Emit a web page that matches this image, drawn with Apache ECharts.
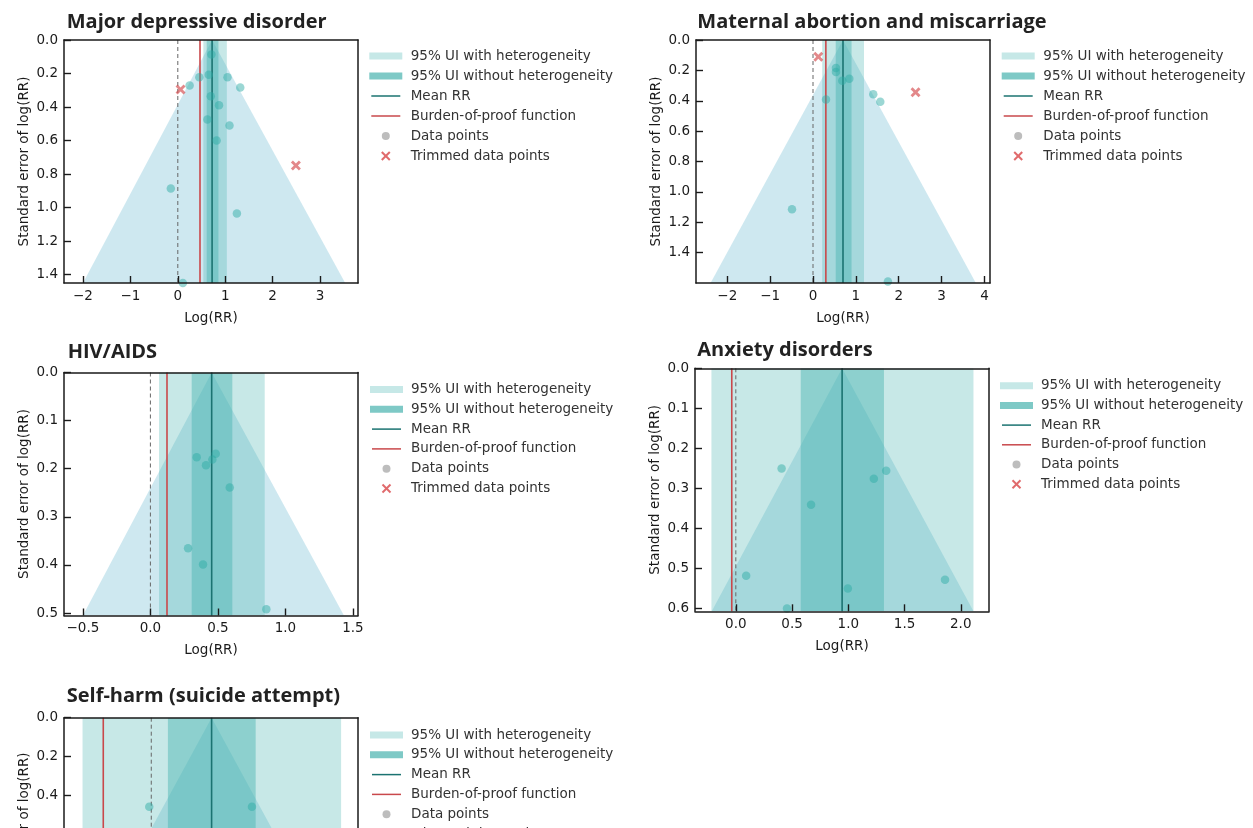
<!DOCTYPE html>
<html>
<head>
<meta charset="utf-8">
<title>Funnel plots</title>
<script src="https://cdn.jsdelivr.net/npm/echarts@6/dist/echarts.min.js"></script>
<style>
  html, body { margin: 0; padding: 0; background: #fff; overflow: hidden; }
  #chart { width: 1253px; height: 1000px; }
</style>
</head>
<body>
<div id="chart"></div>
<script>
// ---- data ----
const panelTitles = [
  "Major depressive disorder",
  "Maternal abortion and miscarriage",
  "HIV/AIDS",
  "Anxiety disorders",
  "Self-harm (suicide attempt)",
];

// [log(RR), standard error]
const mddPoints = [[0.709, 0.087], [0.652, 0.208], [0.454, 0.222], [1.048, 0.222], [0.249, 0.272],
  [1.317, 0.284], [0.695, 0.335], [0.869, 0.389], [0.624, 0.474], [1.09, 0.51], [0.819, 0.6],
  [-0.147, 0.886], [1.246, 1.035], [0.107, 1.45]];
const mddTrimmed = [[0.058, 0.295], [2.49, 0.749]];
const abortionPoints = [[0.536, 0.185], [0.536, 0.211], [0.684, 0.268], [0.847, 0.255], [0.303, 0.392],
  [1.406, 0.357], [1.57, 0.407], [-0.49, 1.115], [1.748, 1.59]];
const abortionTrimmed = [[0.124, 0.111], [2.393, 0.344]];
const hivPoints = [[0.343, 0.176], [0.412, 0.193], [0.459, 0.181], [0.484, 0.169], [0.588, 0.239],
  [0.279, 0.365], [0.39, 0.399], [0.859, 0.492]];
const hivTrimmed = [];
const anxietyPoints = [[0.407, 0.25], [0.669, 0.341], [1.227, 0.276], [1.337, 0.256], [0.092, 0.518],
  [0.996, 0.55], [1.86, 0.528], [0.455, 0.6]];
const anxietyTrimmed = [];
const selfHarmPoints = [[-0.037, 0.456], [1.846, 0.456]];
const selfHarmTrimmed = [];

const meanRR = [0.723, 0.70, 0.454, 0.945, 1.106];
const burdenOfProof = [0.468, 0.30, 0.123, -0.036, -0.88];
const uiWithHet = [[0.539, 1.034], [0.215, 1.19], [0.064, 0.847], [-0.217, 2.113], [-1.26, 3.48]];
const uiWithoutHet = [[0.609, 0.857], [0.53, 0.90], [0.306, 0.607], [0.577, 1.317], [0.305, 1.914]];
// funnel triangle: apex x, apex se, left x, left se, right x, right se
const funnels = [
  [0.723, 0, -2.0, 1.45, 3.53, 1.45],
  [0.70, 0, -2.39, 1.6, 3.80, 1.6],
  [0.454, 0, -0.5, 0.505, 1.434, 0.505],
  [0.945, 0, -0.214, 0.607, 2.113, 0.607],
  [1.106, 0, -1.28, 1.227, 3.49, 1.227],
];

const xMin = [-2.4, -2.73, -0.64, -0.363, -1.6];
const xMax = [3.8, 4.13, 1.538, 2.251, 3.79];
const yMax = [1.45, 1.6, 0.505, 0.607, 1.227];
const xTicks = [[-2, -1, 0, 1, 2, 3], [-2, -1, 0, 1, 2, 3, 4], [-0.5, 0, 0.5, 1, 1.5], [0, 0.5, 1, 1.5, 2], [-1, 0, 1, 2, 3]];
const yTicks = [[0, 0.2, 0.4, 0.6, 0.8, 1.0, 1.2, 1.4], [0, 0.2, 0.4, 0.6, 0.8, 1.0, 1.2, 1.4],
  [0, 0.1, 0.2, 0.3, 0.4, 0.5], [0, 0.1, 0.2, 0.3, 0.4, 0.5, 0.6], [0, 0.2, 0.4, 0.6, 0.8, 1.0, 1.2]];
const xDecimals = [0, 0, 1, 1, 0];

const legendLabels = ["95% UI with heterogeneity", "95% UI without heterogeneity", "Mean RR",
  "Burden-of-proof function", "Data points", "Trimmed data points"];

const allPoints = [mddPoints, abortionPoints, hivPoints, anxietyPoints, selfHarmPoints];
const allTrimmed = [mddTrimmed, abortionTrimmed, hivTrimmed, anxietyTrimmed, selfHarmTrimmed];

// ---- layout ----
const grids = [
  { left: 64, top: 40 },
  { left: 696, top: 40 },
  { left: 64, top: 372.5 },
  { left: 695, top: 368.3 },
  { left: 64, top: 717.7 },
];
const titlePos = [[66.7, 12.3], [697.3, 12.3], [67.7, 342.3], [697.3, 340.6], [66.7, 686.6]];
const legendPos = [
  { px: 369.3, tx: 410.7, y: 56, step: 20 },
  { px: 1001.7, tx: 1043.3, y: 56, step: 20 },
  { px: 370, tx: 411, y: 389.5, step: 19.8 },
  { px: 1000, tx: 1041, y: 385.7, step: 19.7 },
  { px: 370, tx: 411, y: 735, step: 19.8 },
];

const LIGHT = "rgba(71,179,176,0.3)";
const DARK = "rgba(71,179,176,0.45)";
const FUNNEL = "rgba(173,216,230,0.6)";
const MEAN_COLOR = "#1b7371";
const BOP_COLOR = "#c9484b";
const POINT_COLOR = "rgba(45,172,166,0.6)";
const TRIM_COLOR = "rgba(214,80,84,0.85)";
const AXIS_COLOR = "#1a1a1a";
const FONT = "DejaVu Sans";
const FONT_SIZE = 13.5;
const X_PATH = "path://M2,0L5,3L8,0L10,2L7,5L10,8L8,10L5,7L2,10L0,8L3,5L0,2Z";

const chart = echarts.init(document.getElementById("chart"));

const grid = [], xAxis = [], yAxis = [], series = [], title = [], graphic = [];

panelTitles.forEach(function (name, i) {
  grid.push({ left: grids[i].left, top: grids[i].top, width: 294, height: 243 });
  title.push({
    text: name, left: titlePos[i][0], top: titlePos[i][1], padding: 0,
    textStyle: { fontFamily: "Open Sans", fontWeight: "bold", fontSize: 20, color: "#222" },
  });

  const fmtX = function (v) { return v.toFixed(xDecimals[i]).replace("-", "\u2212"); };
  xAxis.push({
    gridIndex: i, type: "value", min: xMin[i], max: xMax[i], z: 10,
    axisLine: { show: true, onZero: false, lineStyle: { color: AXIS_COLOR, width: 1.5 } },
    axisTick: { show: true, inside: true, length: 7, customValues: xTicks[i], lineStyle: { color: AXIS_COLOR, width: 1.4 } },
    axisLabel: { customValues: xTicks[i], formatter: fmtX, fontFamily: FONT, fontSize: FONT_SIZE, color: AXIS_COLOR, margin: 6 },
    splitLine: { show: false },
    name: "Log(RR)", nameLocation: "middle", nameGap: 28,
    nameTextStyle: { fontFamily: FONT, fontSize: FONT_SIZE, color: AXIS_COLOR },
  });
  xAxis.push({
    gridIndex: i, type: "value", min: xMin[i], max: xMax[i], position: "top", z: 10,
    axisLine: { show: true, onZero: false, lineStyle: { color: AXIS_COLOR, width: 1.5 } },
    axisTick: { show: false }, axisLabel: { show: false }, splitLine: { show: false },
  });
  yAxis.push({
    gridIndex: i, type: "value", min: 0, max: yMax[i], inverse: true, z: 10,
    axisLine: { show: true, onZero: false, lineStyle: { color: AXIS_COLOR, width: 1.5 } },
    axisTick: { show: true, inside: true, length: 7, customValues: yTicks[i], lineStyle: { color: AXIS_COLOR, width: 1.4 } },
    axisLabel: { customValues: yTicks[i], formatter: function (v) { return v.toFixed(1); },
      fontFamily: FONT, fontSize: FONT_SIZE, color: AXIS_COLOR, margin: 6 },
    splitLine: { show: false },
    name: "Standard error of log(RR)", nameLocation: "middle", nameGap: 33,
    nameTextStyle: { fontFamily: FONT, fontSize: FONT_SIZE, color: AXIS_COLOR },
  });
  yAxis.push({
    gridIndex: i, type: "value", min: 0, max: yMax[i], inverse: true, position: "right", z: 10,
    axisLine: { show: true, onZero: false, lineStyle: { color: AXIS_COLOR, width: 1.5 } },
    axisTick: { show: false }, axisLabel: { show: false }, splitLine: { show: false },
  });

  const xi = 2 * i, yi = 2 * i;

  // funnel
  series.push({
    type: "custom", xAxisIndex: xi, yAxisIndex: yi, z: 1, silent: true, clip: true,
    data: [funnels[i]], encode: { x: [0, 2, 4], y: [1, 3, 5] },
    renderItem: function (params, api) {
      return {
        type: "polygon",
        shape: { points: [api.coord([api.value(0), api.value(1)]), api.coord([api.value(2), api.value(3)]), api.coord([api.value(4), api.value(5)])] },
        style: { fill: FUNNEL },
      };
    },
  });
  // UI bands
  [[uiWithHet[i], LIGHT], [uiWithoutHet[i], DARK]].forEach(function (b, k) {
    series.push({
      type: "custom", xAxisIndex: xi, yAxisIndex: yi, z: 2 + k, silent: true, clip: true,
      data: [b[0]], encode: { x: [0, 1] },
      renderItem: function (params, api) {
        const p0 = api.coord([api.value(0), 0]);
        const p1 = api.coord([api.value(1), yMax[i]]);
        return { type: "rect", shape: { x: p0[0], y: p0[1], width: p1[0] - p0[0], height: p1[1] - p0[1] }, style: { fill: b[1] } };
      },
    });
  });
  // reference lines
  const vline = function (v, color, type, width, z) {
    return {
      type: "line", xAxisIndex: xi, yAxisIndex: yi, z: z, silent: true, symbol: "none", animation: false,
      data: [[v, 0], [v, yMax[i]]], lineStyle: { color: color, type: type, width: width },
    };
  };
  series.push(vline(0, "#666", [4, 3], 1, 4));
  series.push(vline(burdenOfProof[i], BOP_COLOR, "solid", 1.6, 5));
  series.push(vline(meanRR[i], MEAN_COLOR, "solid", 1.6, 5));
  // points
  series.push({
    type: "scatter", xAxisIndex: xi, yAxisIndex: yi, z: 6, symbol: "circle", symbolSize: 8.5,
    data: allPoints[i], itemStyle: { color: POINT_COLOR },
  });
  series.push({
    type: "scatter", xAxisIndex: xi, yAxisIndex: yi, z: 7, symbol: X_PATH, symbolSize: 10,
    data: allTrimmed[i], itemStyle: { color: TRIM_COLOR },
  });

  // legend drawn as graphics
  const L = legendPos[i];
  legendLabels.forEach(function (label, r) {
    const cy = L.y + r * L.step;
    if (r === 0 || r === 1) {
      graphic.push({ type: "rect", shape: { x: L.px, y: cy - 3.5, width: 33, height: 7 },
        style: { fill: r === 0 ? "#c6e8e7" : "#7ec9c6" } });
    } else if (r === 2 || r === 3) {
      graphic.push({ type: "line", shape: { x1: L.px + 2, y1: cy, x2: L.px + 31, y2: cy },
        style: { stroke: r === 2 ? MEAN_COLOR : BOP_COLOR, lineWidth: 1.5 } });
    } else if (r === 4) {
      graphic.push({ type: "circle", shape: { cx: L.px + 16.5, cy: cy, r: 4 }, style: { fill: "#bdbdbd" } });
    } else {
      graphic.push({ type: "line", shape: { x1: L.px + 12.5, y1: cy - 4, x2: L.px + 20.5, y2: cy + 4 },
        style: { stroke: "#e06a6c", lineWidth: 2 } });
      graphic.push({ type: "line", shape: { x1: L.px + 12.5, y1: cy + 4, x2: L.px + 20.5, y2: cy - 4 },
        style: { stroke: "#e06a6c", lineWidth: 2 } });
    }
    graphic.push({ type: "text", x: L.tx, y: cy,
      style: { text: label, fontFamily: FONT, fontSize: FONT_SIZE, fill: "#333", verticalAlign: "middle", align: "left" } });
  });
});

chart.setOption({
  animation: false,
  backgroundColor: "#fff",
  title: title,
  grid: grid,
  xAxis: xAxis,
  yAxis: yAxis,
  series: series,
  graphic: graphic,
});
</script>
</body>
</html>
